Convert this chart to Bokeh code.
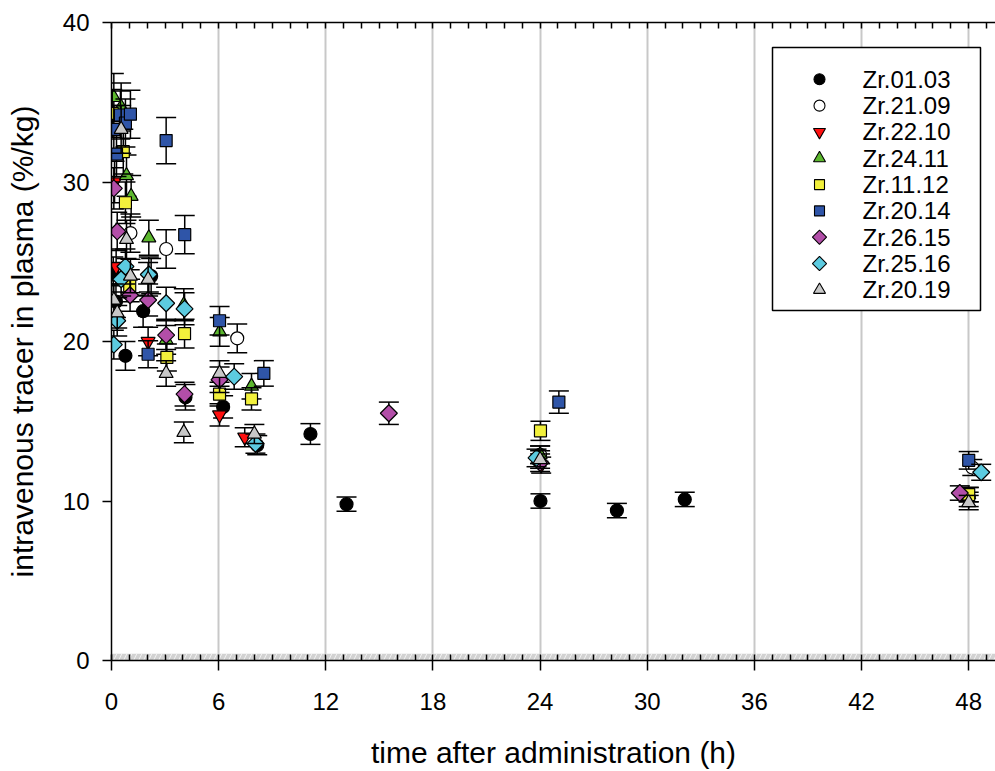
import numpy as np
from bokeh.plotting import figure
from bokeh.models import (Range1d, LinearAxis, SingleIntervalTicker, FixedTicker,
                          BoxAnnotation, ColumnDataSource)
from bokeh.core.properties import value
from bokeh.embed import file_html
from bokeh.resources import INLINE

# ---------------- data ----------------
names = ["Zr.01.03", "Zr.21.09", "Zr.22.10", "Zr.24.11", "Zr.11.12",
         "Zr.20.14", "Zr.26.15", "Zr.25.16", "Zr.20.19"]

t_0103 = [0.1, 0.25, 0.78, 1.77, 2.22, 4.14, 6.25, 8.16, 11.14, 13.16, 24.02, 28.3, 32.1]
v_0103 = [24.2, 22.5, 19.1, 21.9, 24.1, 16.5, 15.9, 13.5, 14.2, 9.8, 10.0, 9.4, 10.1]
e_0103 = [1.1, 1.0, 0.9, 1.0, 1.1, 0.8, 0.7, 0.6, 0.65, 0.45, 0.45, 0.45, 0.45]

t_2109 = [1.06, 3.06, 7.04, 24.0, 48.2]
v_2109 = [26.8, 25.8, 20.2, 12.9, 12.1]
e_2109 = [1.2, 1.2, 0.9, 0.55, 0.5]

t_2210 = [0.17, 0.26, 2.05, 6.05, 7.46, 24.06, 48.0]
v_2210 = [30.0, 24.7, 20.0, 15.4, 14.0, 12.25, 10.1]
e_2210 = [1.3, 1.1, 0.9, 0.7, 0.6, 0.5, 0.45]

t_2411 = [0.13, 0.54, 0.84, 1.1, 2.09, 3.06, 4.05, 6.06, 7.84, 24.0, 48.0]
v_2411 = [35.3, 34.7, 30.4, 29.1, 26.5, 20.1, 22.3, 20.6, 17.2, 12.9, 10.4]
e_2411 = [1.5, 1.5, 1.3, 1.3, 1.1, 0.9, 1.0, 0.9, 0.8, 0.55, 0.45]

t_1112 = [0.04, 0.66, 0.78, 1.02, 3.1, 4.09, 6.05, 7.84, 24.02, 48.0]
v_1112 = [34.3, 31.9, 28.7, 23.5, 19.0, 20.5, 16.7, 16.4, 14.4, 10.4]
e_1112 = [1.5, 1.4, 1.3, 1.0, 0.85, 0.9, 0.75, 0.7, 0.6, 0.45]

t_2014 = [0.13, 0.28, 0.5, 0.78, 1.06, 2.05, 3.06, 4.1, 6.05, 8.53, 25.05, 48.0]
v_2014 = [33.3, 31.75, 34.2, 33.7, 34.25, 19.2, 32.6, 26.7, 21.3, 18.0, 16.2, 12.55]
e_2014 = [1.5, 1.4, 1.5, 1.5, 1.5, 0.85, 1.45, 1.2, 0.9, 0.8, 0.7, 0.55]

t_2615 = [0.13, 0.32, 1.04, 2.05, 3.06, 4.09, 6.05, 15.53, 24.0, 47.5]
v_2615 = [29.6, 26.9, 22.9, 22.6, 20.4, 16.7, 17.6, 15.5, 12.4, 10.5]
e_2615 = [1.3, 1.2, 1.0, 1.0, 0.9, 0.75, 0.8, 0.7, 0.55, 0.45]

t_2516 = [0.13, 0.32, 0.54, 0.78, 2.09, 3.06, 4.09, 6.87, 8.06, 23.8, 48.7]
v_2516 = [19.8, 21.3, 23.9, 24.7, 24.2, 22.4, 22.05, 17.8, 13.6, 12.7, 11.8]
e_2516 = [0.9, 0.95, 1.05, 1.1, 1.1, 1.0, 1.0, 0.8, 0.6, 0.55, 0.5]

t_2019 = [0.13, 0.32, 0.54, 0.84, 1.06, 2.05, 3.06, 4.05, 6.05, 8.0, 24.0, 48.0]
v_2019 = [22.6, 21.8, 33.3, 26.4, 24.1, 23.9, 18.0, 14.3, 18.0, 14.2, 12.6, 9.9]
e_2019 = [1.0, 0.95, 1.5, 1.2, 1.05, 1.05, 0.8, 0.65, 0.8, 0.6, 0.55, 0.45]

x_ticks = [0, 6, 12, 18, 24, 30, 36, 42, 48]
y_ticks = [0, 10, 20, 30, 40]
x_title = "time after administration (h)"
y_title = "intravenous tracer in plasma (%/kg)"

# marker style per series: (marker, fill colour, rotation)
DIAM = np.pi / 4
styles = [("circle", "#000000", 0), ("circle", "#ffffff", 0),
          ("inverted_triangle", "#ff1010", 0), ("triangle", "#5cb82e", 0),
          ("square", "#f2f03c", 0), ("square", "#2f55a8", 0),
          ("square", "#b24ea8", DIAM), ("square", "#5ccbe0", DIAM),
          ("triangle", "#c8c8c8", 0)]
data = [(t_0103, v_0103, e_0103), (t_2109, v_2109, e_2109), (t_2210, v_2210, e_2210),
        (t_2411, v_2411, e_2411), (t_1112, v_1112, e_1112), (t_2014, v_2014, e_2014),
        (t_2615, v_2615, e_2615), (t_2516, v_2516, e_2516), (t_2019, v_2019, e_2019)]
sizes = {"circle": 13, "inverted_triangle": 14, "triangle": 14, "square": 12}
lg_sizes = {"circle": 11, "inverted_triangle": 12, "triangle": 12, "square": 10}

FONT = "Liberation Sans"

# layout constants (pixels)
W, H = 995, 771
L, T, B = 111, 22, 662
X0, X1, Y0, Y1 = 0.0, 49.5, 0.0, 40.0
def px2x(px): return X0 + (px - L) / (W - L) * (X1 - X0)
def py2y(py): return Y0 + (B - py) / (B - T) * (Y1 - Y0)

p = figure(width=W, height=H, output_backend="svg", toolbar_location=None,
           x_range=Range1d(X0, X1), y_range=Range1d(Y0, Y1),
           x_axis_location=None, y_axis_location=None,
           min_border_left=L, min_border_right=0, min_border_top=T,
           min_border_bottom=H - B, background_fill_color="white",
           border_fill_color="white")
p.outline_line_color = None

# grey hatched band at the base
p.add_layout(BoxAnnotation(bottom=0, top=0.42, fill_color="#d2d2d2", fill_alpha=1,
                           hatch_pattern="/", hatch_color="#f2f2f2", hatch_scale=10,
                           hatch_weight=1, line_color=None, level="underlay"))

xaxis = LinearAxis(ticker=SingleIntervalTicker(interval=6, num_minor_ticks=6),
                   major_label_text_font=FONT,
                   major_label_text_font_size="24px", major_label_text_color="black",
                   axis_line_color="black", axis_line_width=1.5,
                   major_tick_out=10, major_tick_in=0, major_tick_line_width=1.5,
                   minor_tick_in=6, minor_tick_out=0, minor_tick_line_width=1.5,
                   major_label_standoff=22,
                   axis_label=x_title, axis_label_text_font=FONT,
                   axis_label_text_font_size="30px", axis_label_text_color="black",
                   axis_label_text_font_style="normal", axis_label_standoff=23)
p.add_layout(xaxis, "below")

top = LinearAxis(ticker=SingleIntervalTicker(interval=6, num_minor_ticks=6),
                 major_label_text_color=None, major_tick_out=0, major_tick_in=0,
                 minor_tick_in=6, minor_tick_out=0, minor_tick_line_width=1.5,
                 axis_line_color="black", axis_line_width=1.5)
p.add_layout(top, "above")

yaxis = LinearAxis(ticker=FixedTicker(ticks=y_ticks), major_label_text_font=FONT,
                   major_label_text_font_size="24px", major_label_text_color="black",
                   axis_line_color="black", axis_line_width=1.5,
                   major_tick_out=9, major_tick_in=0, major_tick_line_width=1.5,
                   minor_tick_in=0, minor_tick_out=0, major_label_standoff=13,
                   axis_label=y_title,
                   axis_label_text_font=FONT, axis_label_text_font_size="30px",
                   axis_label_text_color="black",
                   axis_label_text_font_style="normal", axis_label_standoff=21)
p.add_layout(yaxis, "left")

p.xgrid.ticker = FixedTicker(ticks=x_ticks[1:])
p.xgrid.grid_line_color = "#c8c8c8"
p.xgrid.grid_line_width = 2
p.ygrid.grid_line_color = None

cap = px2x(L + 10) - X0
for (t, v, e), (marker, color, ang) in zip(data, styles):
    t = np.array(t, float); v = np.array(v, float); e = np.array(e, float)
    src = ColumnDataSource(dict(t=t, v=v, lo=v - e, hi=v + e,
                                cl=t - cap, cr=t + cap))
    p.segment(x0="t", y0="lo", x1="t", y1="hi", source=src, line_color="black", line_width=1.5)
    p.segment(x0="cl", y0="hi", x1="cr", y1="hi", source=src, line_color="black", line_width=1.5)
    p.segment(x0="cl", y0="lo", x1="cr", y1="lo", source=src, line_color="black", line_width=1.5)
    p.scatter(x="t", y="v", source=src, marker=marker, size=sizes[marker],
              angle=ang, fill_color=color, line_color="black", line_width=1.2)

# ---------------- legend (drawn in the frame) ----------------
LG_L, LG_R, LG_T, LG_B = 772, 980, 47, 311
row0, drow = 79, 26.4
p.quad(left=[px2x(LG_L)], right=[px2x(LG_R)], top=[py2y(LG_T)], bottom=[py2y(LG_B)],
       fill_color="white", line_color="black", line_width=1.5)
for i, (name, (marker, color, ang)) in enumerate(zip(names, styles)):
    yy = py2y(row0 + i * drow)
    p.scatter(x=[px2x(819)], y=[yy], marker=marker, size=lg_sizes[marker], angle=ang,
              fill_color=color, line_color="black", line_width=1.1)
    p.text(x=[px2x(862)], y=[yy], text=[name], text_font=value(FONT),
           text_font_size="24px", text_baseline="middle", text_align="left",
           text_color="black")

open("out.html", "w").write(file_html(p, INLINE))
